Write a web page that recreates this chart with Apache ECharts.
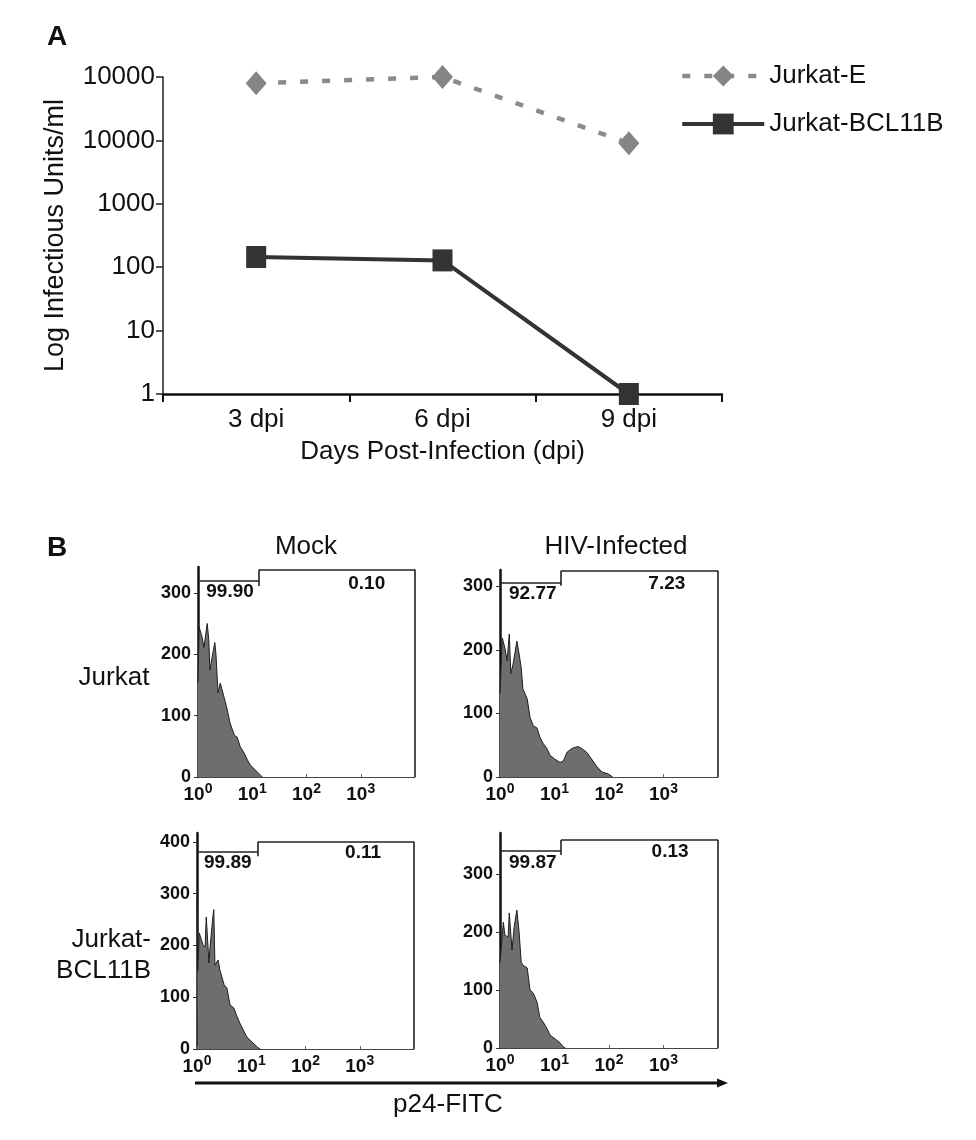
<!DOCTYPE html>
<html><head><meta charset="utf-8">
<script src="https://cdn.jsdelivr.net/npm/echarts@6/dist/echarts.min.js"></script>
<style>html,body{margin:0;padding:0;background:#fff}#c{width:976px;height:1140px}</style>
</head><body><div id="c"></div>
<script>
// ---------- Panel A data ----------
const days = ['3 dpi', '6 dpi', '9 dpi'];
const jurkatE = [80000, 100000, 9000];
const jurkatBCL11B = [145, 128, 1];
const yTickLabelsA = ['1', '10', '100', '1000', '10000', '10000'];

// ---------- Panel B data (p24-FITC intensity, cell count) ----------
const mockJurkatX = [1.00, 1.05, 1.19, 1.29, 1.48, 1.58, 1.66, 1.82, 2.04, 2.14, 2.34, 2.57, 3.02, 3.47, 3.89, 4.68, 5.25, 6.03, 7.08, 8.13, 9.12, 11.5, 14.1, 15.5];
const mockJurkatY = [153, 244, 228, 211, 250, 223, 174, 195, 219, 201, 137, 153, 130, 109, 88, 68, 65, 49, 39, 28, 20, 11, 3, 0];

const hivJurkatX = [1.00, 1.10, 1.23, 1.35, 1.48, 1.58, 1.74, 2.04, 2.24, 2.45, 2.63, 3.16, 3.55, 4.07, 4.79, 5.37, 6.17, 7.24, 8.32, 10.2, 12.6, 14.5, 17.0, 20.9, 26.9, 31.6, 39.8, 49.0, 60.3, 74.1, 95.5, 117];
const hivJurkatY = [131, 219, 203, 183, 225, 163, 178, 214, 194, 172, 139, 123, 94, 81, 77, 63, 53, 45, 34, 28, 23, 25, 39, 45, 48, 45, 38, 27, 16, 8, 5, 0];

const mockBclX = [1.00, 1.03, 1.10, 1.17, 1.29, 1.41, 1.48, 1.66, 1.74, 1.95, 2.04, 2.14, 2.45, 2.63, 3.16, 3.55, 4.07, 4.79, 5.50, 6.17, 7.41, 8.32, 10.2, 12.9, 14.5];
const mockBclY = [290, 150, 224, 224, 201, 197, 255, 166, 197, 253, 269, 162, 172, 153, 124, 118, 85, 79, 62, 50, 33, 23, 14, 4, 0];

const hivBclX = [1.00, 1.05, 1.15, 1.23, 1.41, 1.48, 1.58, 1.66, 1.82, 2.04, 2.14, 2.24, 2.45, 2.63, 3.16, 3.55, 4.07, 4.79, 5.37, 6.17, 7.24, 8.32, 10.2, 12.6, 14.5, 15.8];
const hivBclY = [147, 147, 217, 195, 191, 233, 233, 169, 209, 238, 241, 200, 148, 143, 138, 100, 95, 79, 53, 45, 34, 22, 16, 9, 2, 0];

const pctNegative = ['99.90', '92.77', '99.89', '99.87'];
const pctPositive = ['0.10', '7.23', '0.11', '0.13'];
const gateSplit = [13.3, 13.2, 13.3, 13.2];
const gateLow = [319, 306, 381, 340];
const gateHigh = [338, 325, 400, 359];
const gateTickBottom = [311, 301, 372, 333];
const yMaxB = [342, 326, 417, 371];
const yTicksB = [[0, 100, 200, 300], [0, 100, 200, 300], [0, 100, 200, 300, 400], [0, 100, 200, 300]];
const pctNegPos = [[3.9, 301], [4.0, 289], [3.7, 359], [4.0, 319]];
const pctPosPos = [[1290, 315], [1150, 305], [1150, 379], [1320, 338]];

const FONT = '"Liberation Sans", Arial, Helvetica, sans-serif';
const hists = [[mockJurkatX, mockJurkatY], [hivJurkatX, hivJurkatY], [mockBclX, mockBclY], [hivBclX, hivBclY]];
const gridsB = [
  {left: 198, top: 567, width: 217, height: 210},
  {left: 500, top: 570, width: 218, height: 207},
  {left: 197, top: 833, width: 217, height: 216},
  {left: 500, top: 833, width: 218, height: 215}
];

const chart = echarts.init(document.getElementById('c'), null, {renderer: 'canvas'});

const grids = [{left: 163, top: 77, width: 559, height: 317, outerBoundsMode: 'none'}]
  .concat(gridsB.map(g => Object.assign({outerBoundsMode: 'none'}, g)));

const xAxes = [{
  type: 'category', gridIndex: 0, data: days, boundaryGap: true,
  axisLine: {show: true, lineStyle: {color: '#111', width: 2.5}},
  axisTick: {show: true, length: 8, lineStyle: {color: '#111', width: 2}},
  axisLabel: {fontSize: 26, color: '#111', fontFamily: FONT, margin: 13},
  name: 'Days Post-Infection (dpi)', nameLocation: 'middle', nameGap: 45,
  nameTextStyle: {fontSize: 26, color: '#111', fontFamily: FONT}
}];
const yAxes = [{
  type: 'log', logBase: 10, gridIndex: 0, min: 1, max: 100000,
  axisLine: {show: true, lineStyle: {color: '#222', width: 1.5}},
  axisTick: {show: true, length: 7, lineStyle: {color: '#222', width: 1.5}},
  splitLine: {show: false},
  axisLabel: {fontSize: 26, color: '#111', fontFamily: FONT, margin: 8,
    formatter: v => yTickLabelsA[Math.round(Math.log10(v))]},
  name: 'Log Infectious Units/ml', nameLocation: 'middle', nameGap: 94, nameRotate: 90,
  nameTextStyle: {fontSize: 27, color: '#111', fontFamily: FONT}
}];

gridsB.forEach((g, i) => {
  xAxes.push({
    type: 'log', logBase: 10, gridIndex: i + 1, min: 1, max: 10000,
    axisLine: {show: true, lineStyle: {color: '#444', width: 1}},
    axisTick: {show: true, inside: true, length: 3, lineStyle: {color: '#666'}},
    splitLine: {show: false},
    axisLabel: {
      showMaxLabel: false, margin: 5,
      formatter: v => {
        const e = Math.round(Math.log10(v));
        return e >= 4 ? '' : '{b|10}{s|' + e + '}';
      },
      rich: {
        b: {fontSize: 19, fontWeight: 'bold', color: '#111', fontFamily: FONT},
        s: {fontSize: 14, fontWeight: 'bold', color: '#111', fontFamily: FONT, padding: [0, 0, 12, 0]}
      }
    }
  });
  yAxes.push({
    type: 'value', gridIndex: i + 1, min: 0, max: yMaxB[i],
    axisLine: {show: true, lineStyle: {color: '#111', width: 2.5}},
    axisTick: {show: true, length: 4, lineStyle: {color: '#333'}, customValues: yTicksB[i]},
    splitLine: {show: false},
    axisLabel: {fontSize: 18, fontWeight: 'bold', color: '#111', fontFamily: FONT, margin: 7,
      customValues: yTicksB[i]}
  });
});

const series = [
  {
    name: 'Jurkat-E', type: 'line', xAxisIndex: 0, yAxisIndex: 0, data: jurkatE,
    symbol: 'diamond', symbolSize: [21, 24],
    itemStyle: {color: '#858585'},
    lineStyle: {color: '#8a8a8a', width: 4.5, type: [8, 14]},
    z: 3
  },
  {
    name: 'Jurkat-BCL11B', type: 'line', xAxisIndex: 0, yAxisIndex: 0, data: jurkatBCL11B,
    symbol: 'rect', symbolSize: [20, 22],
    itemStyle: {color: '#333'},
    lineStyle: {color: '#333', width: 4},
    z: 4
  }
];

hists.forEach((h, i) => {
  const s = gateSplit[i], lo = gateLow[i], hi = gateHigh[i];
  series.push({
    type: 'line', xAxisIndex: i + 1, yAxisIndex: i + 1,
    data: h[0].map((x, k) => [x, h[1][k]]),
    symbol: 'none', silent: true,
    lineStyle: {color: '#1e1e1e', width: 1},
    areaStyle: {color: '#6e6e6e', opacity: 1},
    markLine: {
      silent: true, symbol: ['none', 'none'], animation: false,
      label: {show: false},
      lineStyle: {color: '#222', width: 1.6, type: 'solid'},
      emphasis: {disabled: true},
      data: [
        [{coord: [1, lo]}, {coord: [s, lo]}],
        [{coord: [s, hi]}, {coord: [s, gateTickBottom[i]]}],
        [{coord: [s, hi]}, {coord: [10000, hi]}],
        [{coord: [10000, hi]}, {coord: [10000, 0]}]
      ]
    }
  });
  series.push({
    type: 'scatter', xAxisIndex: i + 1, yAxisIndex: i + 1, silent: true,
    symbolSize: 0,
    itemStyle: {color: '#000', opacity: 1},
    data: [pctNegPos[i].concat([pctNegative[i]]), pctPosPos[i].concat([pctPositive[i]])],
    label: {show: true, position: 'inside', formatter: p => p.value[2], opacity: 1,
      textBorderWidth: 0,
      fontSize: 19, fontWeight: 'bold', color: '#111', fontFamily: FONT}
  });
});

const txt = (t, x, y, size, opts) => Object.assign({
  type: 'text', silent: true,
  style: Object.assign({text: t, x: x, y: y, fill: '#111', font: size + 'px ' + FONT,
    textAlign: 'center', textVerticalAlign: 'middle'}, opts || {})
});

chart.setOption({
  backgroundColor: '#fff',
  animation: false,
  grid: grids,
  xAxis: xAxes,
  yAxis: yAxes,
  legend: {
    data: [
      {name: 'Jurkat-E', lineStyle: {width: 4.5, color: '#8a8a8a', type: [8, 14]}},
      {name: 'Jurkat-BCL11B', lineStyle: {width: 4, color: '#333'}}
    ],
    orient: 'vertical', left: 675, top: 58,
    itemWidth: 82, itemHeight: 26, itemGap: 22,
    textStyle: {fontSize: 26, color: '#111', fontFamily: FONT}
  },
  series: series,
  graphic: [
    txt('A', 57, 37, 0, {font: 'bold 28px ' + FONT}),
    txt('B', 57, 548, 0, {font: 'bold 28px ' + FONT}),
    txt('Mock', 306, 547, 26),
    txt('HIV-Infected', 616, 547, 26),
    txt('Jurkat', 114, 678, 26),
    txt('Jurkat-\nBCL11B', 151, 955, 26, {textAlign: 'right', lineHeight: 31}),
    {type: 'line', silent: true, shape: {x1: 195, y1: 1083, x2: 719, y2: 1083},
      style: {stroke: '#111', lineWidth: 3}},
    {type: 'polygon', silent: true, shape: {points: [[717, 1078.5], [728, 1083], [717, 1087.5]]},
      style: {fill: '#111'}},
    txt('p24-FITC', 448, 1105, 26)
  ]
});
</script>
</body></html>
